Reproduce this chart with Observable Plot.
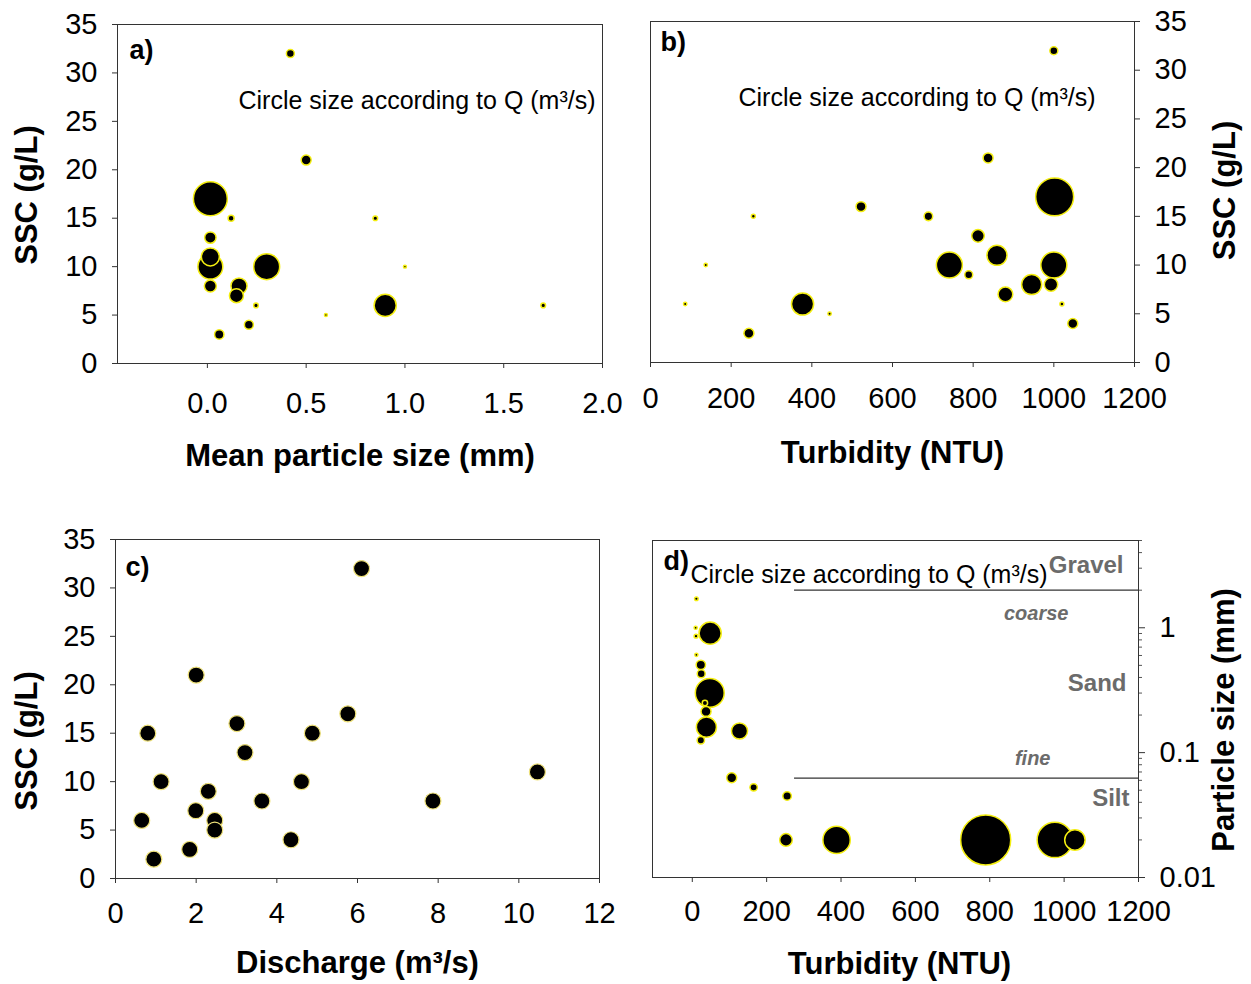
<!DOCTYPE html>
<html><head><meta charset="utf-8">
<script src="https://cdn.jsdelivr.net/npm/d3@7"></script>
<script src="https://cdn.jsdelivr.net/npm/@observablehq/plot@0.6"></script>
<style>
html,body{margin:0;padding:0;background:#fff;}
#wrap{position:relative;width:1251px;height:984px;overflow:hidden;background:#fff;}
#wrap svg{position:absolute;}
</style></head><body><div id="wrap"></div>
<script>
// ---------- DATA ----------
// Panel a: mean particle size (mm) vs SSC (g/L), circle size = Q (m3/s)
const sizeA = [0.42, 0.50, 0.015, 0.12, 0.85, 0.015, 0.015, 0.015, 0.30, 1.00, 0.015, 0.16, 0.147, 0.246, 0.90, 1.70, 0.60, 0.21, 0.06];
const sscA  = [32, 21, 17, 15, 15, 13, 11, 10, 10, 10, 8, 8, 7, 6, 6, 6, 5, 4, 3];
const qA    = [0.44, 0.69, 8.0, 0.25, 0.15, 0.9, 2.25, 4.3, 4.7, 0.06, 1.0, 1.8, 1.36, 0.15, 3.4, 0.15, 0.06, 0.56, 0.61];

// Panel b: turbidity (NTU) vs SSC (g/L), circle size = Q
const turbB = [1000, 837, 1002, 522, 255, 689, 812, 859, 137, 741, 1000, 789, 945, 993, 880, 86, 377, 1020, 444, 244, 1047];
const sscB  = [32, 21, 17, 16, 15, 15, 13, 11, 10, 10, 10, 9, 8, 8, 7, 6, 6, 6, 5, 3, 4];
const qB    = [0.44, 0.69, 10.0, 0.69, 0.11, 0.51, 1.1, 2.8, 0.08, 4.7, 4.7, 0.44, 2.8, 1.25, 1.5, 0.08, 3.4, 0.11, 0.08, 0.69, 0.69];

// Panel c: discharge (m3/s) vs SSC (g/L)
const qC   = [6.10, 2.00, 5.76, 3.01, 0.80, 4.88, 3.21, 1.13, 4.61, 2.30, 3.63, 7.87, 10.46, 1.99, 0.65, 2.46, 2.46, 4.35, 1.84, 0.95];
const sscC = [32, 21, 17, 16, 15, 15, 13, 10, 10, 9, 8, 8, 11, 7, 6, 6, 5, 4, 3, 2];

// Panel d: turbidity (NTU) vs particle size (mm), circle size = Q
const turbD = [11, 48, 9, 10, 11, 23, 24, 47, 34, 37, 38, 127, 23, 106, 165, 255, 252, 388, 789, 975, 1029];
const sizeD = [1.71, 0.905, 1.0, 0.857, 0.607, 0.505, 0.428, 0.301, 0.25, 0.214, 0.160, 0.149, 0.1255, 0.063, 0.0527, 0.045, 0.020, 0.020, 0.020, 0.020, 0.020];
const qD    = [0.09, 3.4, 0.07, 0.1, 0.07, 0.61, 0.44, 5.8, 0.2, 0.69, 2.8, 1.8, 0.38, 0.69, 0.38, 0.51, 1.1, 5.2, 17.4, 8.7, 2.9];

// grain-size class boundaries (mm) and where the boundary lines start/end (NTU)
const classBounds = [2, 0.0625];
const boundStart = 275;
const boundEnd = 1200;

// tick values
const sscTicks = [0, 5, 10, 15, 20, 25, 30, 35];
const sizeTicksA = [0, 0.5, 1.0, 1.5, 2.0];
const turbTicks = [0, 200, 400, 600, 800, 1000, 1200];
const qTicks = [0, 2, 4, 6, 8, 10, 12];
const logTicks = [0.01, 0.1, 1];
const logMinor = [0.02,0.03,0.04,0.05,0.06,0.07,0.08,0.09,0.2,0.3,0.4,0.5,0.6,0.7,0.8,0.9,2,3,4,5];

const noteText = "Circle size according to Q (m³/s)";

// ---------- STYLE ----------
const FONT = '"Liberation Sans", Arial, Helvetica, sans-serif';
const TICK_FS = 29, TITLE_FS = 31;
const rScale = {type: "sqrt", domain: [0, 16], range: [0, 24]};
const plain = d => String(d);
const wrap = document.getElementById("wrap");

function place(svg, left, top) {
  svg.style.left = left + "px";
  svg.style.top = top + "px";
  wrap.appendChild(svg);
}
const frame = () => Plot.frame({stroke: "#333", strokeWidth: 1});
const label = (t, o) => Plot.text([t], {text: d => d, textAnchor: "middle", lineAnchor: "middle", fontSize: TITLE_FS, fontWeight: "bold", fill: "#000", ...o});
const note = (t, o) => Plot.text([t], {text: d => d, lineAnchor: "middle", textAnchor: "start", fill: "#000", ...o});
const dotStyle = {fill: "#000", stroke: "#f4ee10", strokeWidth: 1.5};
const baseStyle = {fontFamily: FONT, fontSize: TICK_FS + "px", color: "#000", background: "transparent"};

// ---------- PANEL A ----------
const dataA = sizeA.map((s, i) => ({s, ssc: sscA[i], q: qA[i]}));
place(Plot.plot({
  width: 625, height: 490,
  marginLeft: 117, marginRight: 23, marginTop: 24, marginBottom: 127,
  style: baseStyle,
  x: {domain: [-0.455, 2.0]},
  y: {domain: [0, 35]},
  r: rScale,
  marks: [
    Plot.axisX({ticks: sizeTicksA, tickFormat: d3.format(".1f"), tickSize: 5, tickPadding: 24, fontSize: TICK_FS, label: null, stroke: "#333"}),
    Plot.axisY({ticks: sscTicks, tickFormat: plain, tickSize: 5, tickPadding: 15, fontSize: TICK_FS, label: null, stroke: "#333"}),
    frame(),
    Plot.dot(dataA, {x: "s", y: "ssc", r: "q", ...dotStyle}),
    label("Mean particle size (mm)", {frameAnchor: "bottom", dy: 93}),
    label("SSC (g/L)", {frameAnchor: "left", dx: -90, dy: 1, rotate: -90}),
    note("a)", {frameAnchor: "top-left", dx: 12, dy: 26, fontSize: 27, fontWeight: "bold"}),
    note(noteText, {frameAnchor: "top-left", dx: 121, dy: 76.5, fontSize: 25})
  ]
}), 0, 0);

// ---------- PANEL B ----------
const dataB = turbB.map((t, i) => ({t, ssc: sscB[i], q: qB[i]}));
place(Plot.plot({
  width: 626, height: 490,
  marginLeft: 25, marginRight: 117, marginTop: 21, marginBottom: 128,
  style: baseStyle,
  x: {domain: [0, 1200]},
  y: {domain: [0, 35]},
  r: rScale,
  marks: [
    Plot.axisX({ticks: turbTicks, tickFormat: plain, tickSize: 5, tickPadding: 20, fontSize: TICK_FS, label: null, stroke: "#333"}),
    Plot.axisY({anchor: "right", ticks: sscTicks, tickFormat: plain, tickSize: 5, tickPadding: 15, fontSize: TICK_FS, label: null, stroke: "#333"}),
    frame(),
    Plot.dot(dataB, {x: "t", y: "ssc", r: "q", ...dotStyle}),
    label("Turbidity (NTU)", {frameAnchor: "bottom", dy: 91}),
    label("SSC (g/L)", {frameAnchor: "right", dx: 91, dy: -1.5, rotate: -90}),
    note("b)", {frameAnchor: "top-left", dx: 10, dy: 20.5, fontSize: 27, fontWeight: "bold"}),
    note(noteText, {frameAnchor: "top-left", dx: 88, dy: 76, fontSize: 25})
  ]
}), 625, 0);

// ---------- PANEL C ----------
const dataC = qC.map((q, i) => ({q, ssc: sscC[i]}));
place(Plot.plot({
  width: 625, height: 494,
  marginLeft: 115, marginRight: 26, marginTop: 49, marginBottom: 106,
  style: baseStyle,
  x: {domain: [0, 12]},
  y: {domain: [0, 35]},
  marks: [
    Plot.axisX({ticks: qTicks, tickFormat: plain, tickSize: 5, tickPadding: 19, fontSize: TICK_FS, label: null, stroke: "#333"}),
    Plot.axisY({ticks: sscTicks, tickFormat: plain, tickSize: 5, tickPadding: 15, fontSize: TICK_FS, label: null, stroke: "#333"}),
    frame(),
    Plot.dot(dataC, {x: "q", y: "ssc", r: 8, fill: "#000", stroke: "#efe27a", strokeWidth: 1.2}),
    label("Discharge (m³/s)", {frameAnchor: "bottom", dy: 85}),
    label("SSC (g/L)", {frameAnchor: "left", dx: -88, dy: 32, rotate: -90}),
    note("c)", {frameAnchor: "top-left", dx: 10, dy: 28, fontSize: 27, fontWeight: "bold"})
  ]
}), 0, 490);

// ---------- PANEL D ----------
const dataD = turbD.map((t, i) => ({t, s: sizeD[i], q: qD[i]}));
const grey = "#6b6b6b";
place(Plot.plot({
  width: 626, height: 494,
  marginLeft: 27, marginRight: 113, marginTop: 50, marginBottom: 107,
  style: baseStyle,
  x: {domain: [-107, 1200]},
  y: {type: "log", domain: [0.01, 5]},
  r: rScale,
  marks: [
    Plot.axisX({ticks: turbTicks, tickFormat: plain, tickSize: 5, tickPadding: 18, fontSize: TICK_FS, label: null, stroke: "#333"}),
    Plot.axisY({anchor: "right", ticks: logTicks, tickFormat: plain, tickSize: 6, tickPadding: 15, fontSize: TICK_FS, label: null, stroke: "#333"}),
    Plot.axisY({anchor: "right", ticks: logMinor, tickFormat: () => "", tickSize: 3, label: null, stroke: "#555"}),
    frame(),
    Plot.ruleY(classBounds, {y: d => d, x1: boundStart, x2: boundEnd, stroke: "#333", strokeWidth: 1.2}),
    Plot.dot(dataD, {x: "t", y: "s", r: "q", ...dotStyle}),
    label("Turbidity (NTU)", {frameAnchor: "bottom", dy: 87, dx: 4}),
    label("Particle size (mm)", {frameAnchor: "right", dx: 86, dy: 11, rotate: -90}),
    note("d)", {frameAnchor: "top-left", dx: 11, dy: 21, fontSize: 27, fontWeight: "bold"}),
    note(noteText, {frameAnchor: "top-left", dx: 38, dy: 34, fontSize: 25}),
    Plot.text(["Gravel"], {text: d => d, frameAnchor: "top-right", dx: -15, dy: 24.5, textAnchor: "end", lineAnchor: "middle", fontSize: 24, fontWeight: "bold", fill: grey}),
    Plot.text(["coarse"], {text: d => d, frameAnchor: "top-right", dx: -70, dy: 73, textAnchor: "end", lineAnchor: "middle", fontSize: 20, fontWeight: "bold", fontStyle: "italic", fill: grey}),
    Plot.text(["Sand"], {text: d => d, frameAnchor: "top-right", dx: -12, dy: 142.5, textAnchor: "end", lineAnchor: "middle", fontSize: 24, fontWeight: "bold", fill: grey}),
    Plot.text(["fine"], {text: d => d, frameAnchor: "top-right", dx: -88, dy: 218, textAnchor: "end", lineAnchor: "middle", fontSize: 20, fontWeight: "bold", fontStyle: "italic", fill: grey}),
    Plot.text(["Silt"], {text: d => d, frameAnchor: "top-right", dx: -9, dy: 257.5, textAnchor: "end", lineAnchor: "middle", fontSize: 24, fontWeight: "bold", fill: grey})
  ]
}), 625, 490);
</script>
</body></html>
